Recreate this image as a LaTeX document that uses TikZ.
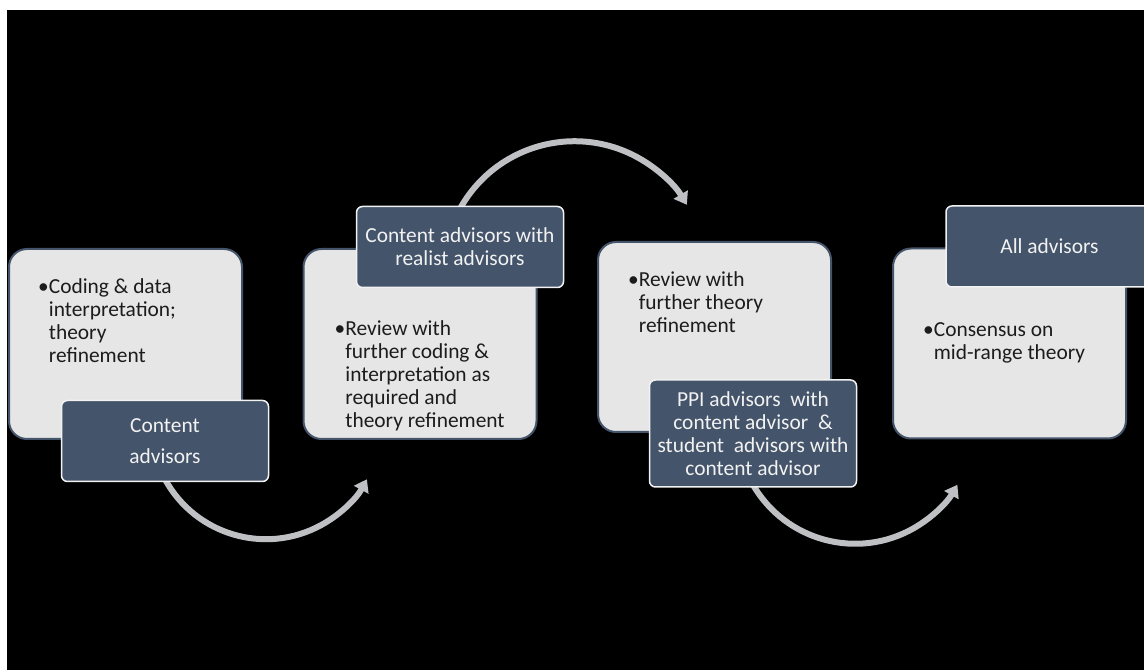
\documentclass[tikz,border=0pt]{standalone}
\usepackage{fontspec}
\setmainfont{Carlito}
\usetikzlibrary{arrows.meta,backgrounds}
\definecolor{slate}{HTML}{44546A}
\definecolor{paper}{HTML}{E6E6E6}
\definecolor{rim}{HTML}{F2F2F2}
\definecolor{ink}{HTML}{1C1C1C}
\definecolor{arcgray}{HTML}{BFC0C4}
\newcommand{\pointlist}[1]{\begin{tabular}[t]{@{}l@{}l@{}}\textbullet\hspace{3pt}&#1\end{tabular}}

\begin{document}
\begin{tikzpicture}[x=1pt,y=1pt,
   panel/.style={draw=slate,line width=2pt,fill=paper,rounded corners=18pt,
      minimum width=233pt,minimum height=190pt,inner sep=0pt},
   tag/.style={draw=rim,line width=1.5pt,fill=slate,rounded corners=6pt,
      minimum width=207pt,minimum height=81pt,align=center,text=rim,
      font=\fontsize{21.4}{23}\selectfont},
   item/.style={inner sep=0pt,anchor=base west,text=ink,
      font=\fontsize{21.4}{23}\selectfont},
   flow/.style={draw=arcgray,line width=6pt,-{Triangle[length=12pt,width=16pt]}}]
\useasboundingbox (0,0) rectangle (1144,670);
% stages
\node[panel] (p1) at (125.5,326) {};
\node[panel] (p2) at (420,326) {};
\node[panel] (p3) at (714.5,333) {};
\node[panel] (p4) at (1009.5,326.5) {};
\node[item] (t1) at ([shift={(30,-46)}]p1.north west)
   {\pointlist{Coding \& data\\&interpretation;\\&theory\\&refinement}};
\node[item] (t2) at ([shift={(32,-88)}]p2.north west)
   {\pointlist{Review with\\&further coding \&\\&interpretation as\\&required and\\&theory refinement}};
\node[item] (t3) at ([shift={(31,-46)}]p3.north west)
   {\pointlist{Review with\\&further theory\\&refinement}};
\node[item] (t4) at ([shift={(31,-89)}]p4.north west)
   {\pointlist{Consensus on\\&mid-range theory}};
% advisors
\node[tag] (a1) at ([shift={(39.5,-97)}]p1.center) {Content\\[8pt]advisors};
\node[tag] (a2) at ([shift={(40,97)}]p2.center) {Content advisors with\\realist advisors};
\node[tag,minimum height=107pt] (a3) at ([shift={(38.5,-96.5)}]p3.center)
   {PPI advisors\ \ with\\content advisor\ \ \&\\student\ \ advisors with\\content advisor};
\node[tag] (a4) at ([shift={(40,97)}]p4.center) {All advisors};
\begin{scope}[on background layer]
\fill[white] (0,0) rectangle (1144,670);
\fill[black] (7,0) rectangle (1144,660);
\draw[flow] ([yshift=3pt]a1.south) arc[start angle=208.6,end angle=331.4,radius=115];
\draw[flow] ([yshift=-3pt]a2.north) arc[start angle=151,end angle=31,radius=131];
\draw[flow] ([yshift=3pt]a3.south) arc[start angle=210,end angle=330,radius=118];
\end{scope}
\end{tikzpicture}
\end{document}
